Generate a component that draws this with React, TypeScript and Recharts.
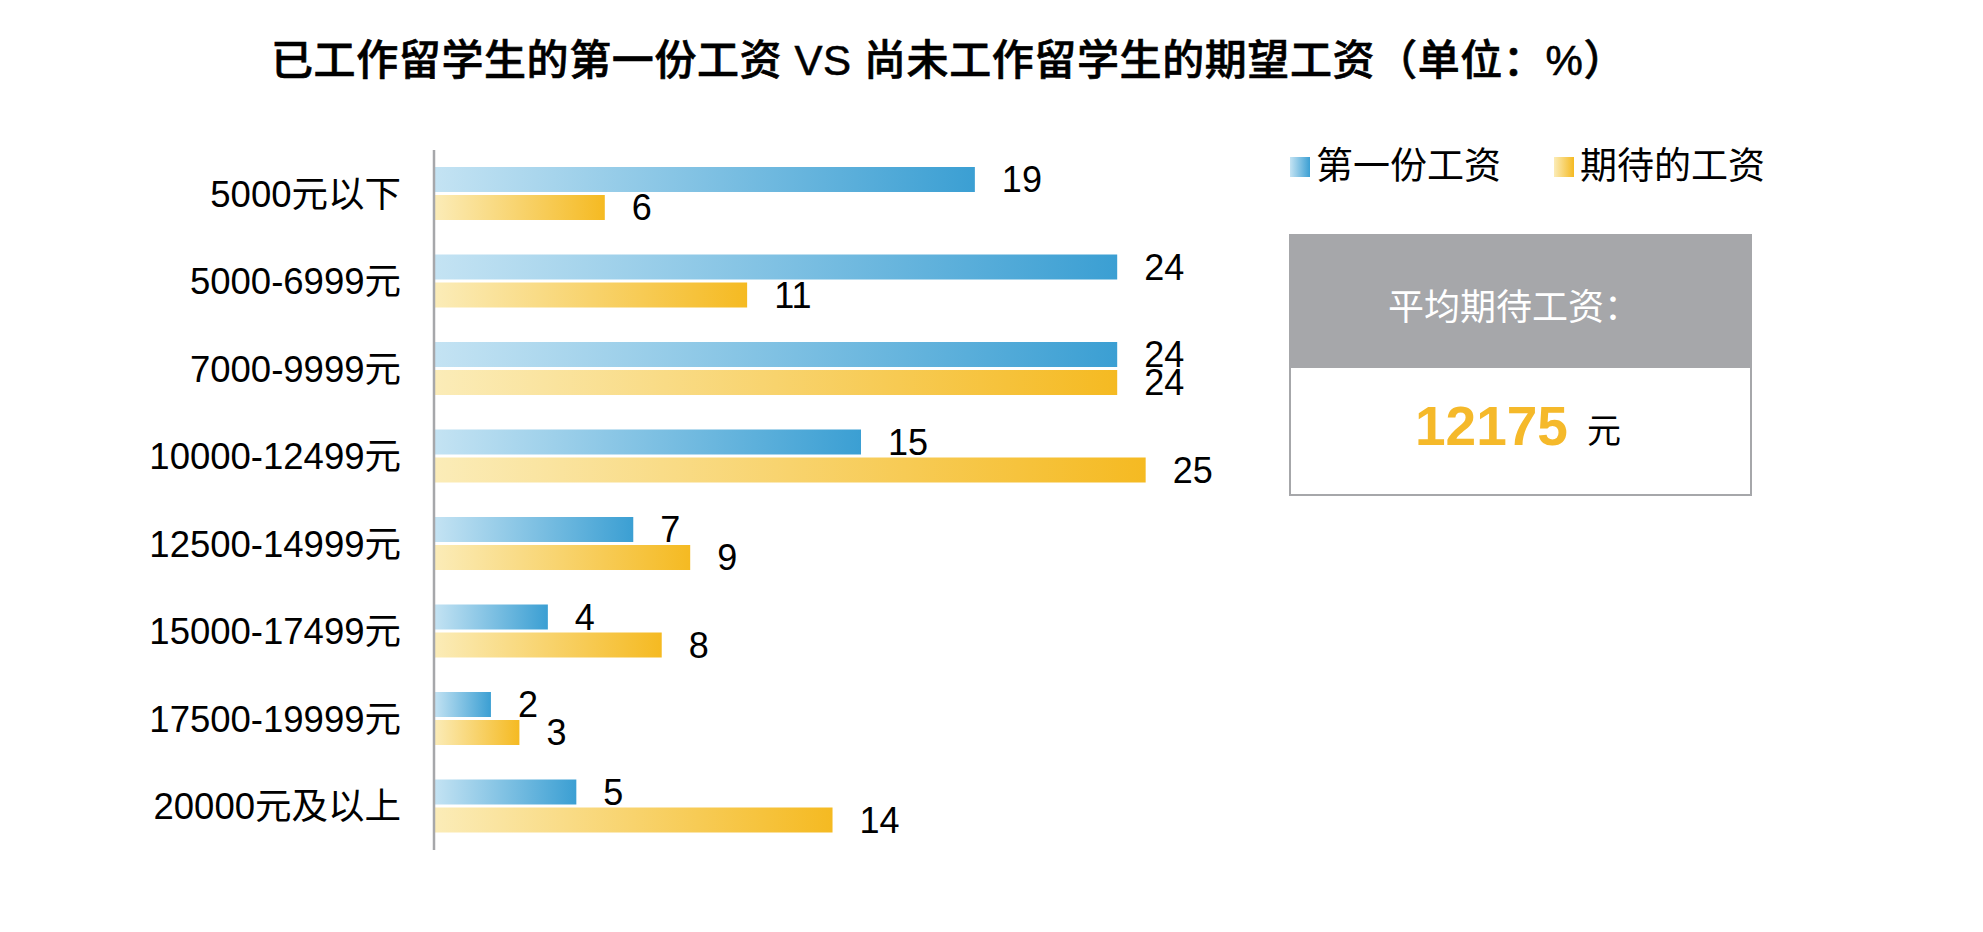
import React from 'react';
import { BarChart, Bar, XAxis, YAxis, LabelList } from 'recharts';

const categories = ['5000元以下', '5000-6999元', '7000-9999元', '10000-12499元', '12500-14999元', '15000-17499元', '17500-19999元', '20000元及以上'];
const firstSalary = [19, 24, 24, 15, 7, 4, 2, 5];
const expectedSalary = [6, 11, 24, 25, 9, 8, 3, 14];
const seriesNames = ['第一份工资', '期待的工资'];
const titleText = '已工作留学生的第一份工资 VS 尚未工作留学生的期望工资（单位：%）';
const boxTitle = '平均期待工资：';
const averageExpected = '12175';
const unitText = '元';

const data = categories.map((name, i) => ({ name, first: firstSalary[i], expected: expectedSalary[i] }));

const FONT = '"Liberation Sans", Arial, "Noto Sans CJK SC", sans-serif';
const BLUE_L = '#c4e3f3';
const BLUE_D = '#3b9fd3';
const YEL_L = '#fbecb8';
const YEL_D = '#f5ba22';
const GREY = '#a6a7aa';

export default function App() {
  return (
    <div style={{ position: 'fixed', left: 0, top: 0, width: 1983, height: 932, background: '#fff', overflow: 'hidden' }}>
      <BarChart
        width={1983}
        height={932}
        data={data}
        layout="vertical"
        margin={{ top: 150, right: 695, bottom: 82, left: 0 }}
        barSize={25}
        barGap={3}
      >
        <defs>
          <linearGradient id="gradBlue" x1="0" y1="0" x2="1" y2="0">
            <stop offset="0%" stopColor={BLUE_L} />
            <stop offset="100%" stopColor={BLUE_D} />
          </linearGradient>
          <linearGradient id="gradYellow" x1="0" y1="0" x2="1" y2="0">
            <stop offset="0%" stopColor={YEL_L} />
            <stop offset="100%" stopColor={YEL_D} />
          </linearGradient>
        </defs>
        <XAxis type="number" domain={[0, 30]} hide />
        <YAxis
          type="category"
          dataKey="name"
          width={434}
          axisLine={{ stroke: GREY, strokeWidth: 2.5 }}
          tickLine={false}
          tickSize={0}
          tickMargin={33}
          interval={0}
          tick={{ fontSize: 36.5, fill: '#000', fontFamily: FONT }}
        />
        <Bar dataKey="first" name={seriesNames[0]} fill="url(#gradBlue)" isAnimationActive={false}>
          <LabelList dataKey="first" position="right" offset={27} style={{ fontSize: 36, fill: '#000', fontFamily: FONT }} />
        </Bar>
        <Bar dataKey="expected" name={seriesNames[1]} fill="url(#gradYellow)" isAnimationActive={false}>
          <LabelList dataKey="expected" position="right" offset={27} style={{ fontSize: 36, fill: '#000', fontFamily: FONT }} />
        </Bar>
      </BarChart>
      <svg width={1983} height={932} style={{ position: 'absolute', left: 0, top: 0, pointerEvents: 'none' }}>
        <defs>
          <linearGradient id="legBlue" x1="0" y1="0" x2="1" y2="0">
            <stop offset="0%" stopColor={BLUE_L} />
            <stop offset="100%" stopColor={BLUE_D} />
          </linearGradient>
          <linearGradient id="legYellow" x1="0" y1="0" x2="1" y2="0">
            <stop offset="0%" stopColor={YEL_L} />
            <stop offset="100%" stopColor={YEL_D} />
          </linearGradient>
        </defs>
        <text x={271} y={75} fontSize={42} fontWeight={500} letterSpacing={0.6} fontFamily={FONT} fill="#000" stroke="#000" strokeWidth={0.6}>{titleText}</text>
        <rect x={1290} y={157} width={20} height={20} fill="url(#legBlue)" />
        <text x={1316} y={179} fontSize={37} fontFamily={FONT} fill="#000">{seriesNames[0]}</text>
        <rect x={1554} y={157} width={20} height={20} fill="url(#legYellow)" />
        <text x={1580} y={179} fontSize={37} fontFamily={FONT} fill="#000">{seriesNames[1]}</text>
        <rect x={1289} y={234} width={463} height={133} fill={GREY} />
        <rect x={1290} y={367} width={461} height={128} fill="#fff" stroke={GREY} strokeWidth={2} />
        <text x={1388} y={320} fontSize={36} fontFamily={FONT} fill="#fff">{boxTitle}</text>
        <text x={1415} y={445} fontSize={55} fontWeight={700} fontFamily={FONT} fill="#f5b92a">{averageExpected}</text>
        <text x={1587} y={443} fontSize={34} fontFamily={FONT} fill="#000">{unitText}</text>
      </svg>
    </div>
  );
}
